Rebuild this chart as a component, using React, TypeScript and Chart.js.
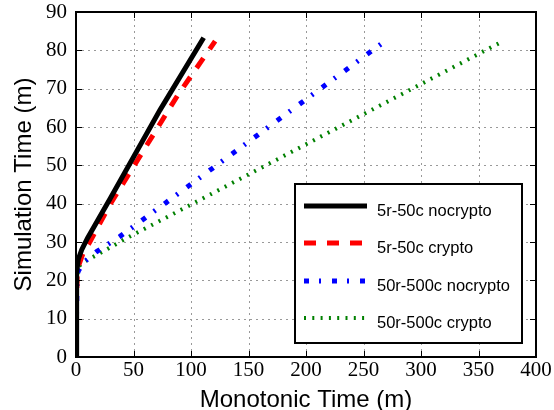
import React, { useEffect, useRef } from "react";
import { Chart, registerables } from "chart.js";

Chart.register(...registerables);

const seriesLabels = ["5r-50c nocrypto", "5r-50c crypto", "50r-500c nocrypto", "50r-500c crypto"];

const blackX = [0, 0.3, 0.8, 2, 5, 10, 30, 73, 111];
const blackY = [0, 15, 22, 25.5, 28, 31, 41.5, 64.4, 83.3];

const redX = [0, 0.4, 1, 2.5, 6, 12, 30, 88.7, 121];
const redY = [0, 14, 21, 24, 27, 30, 40, 68.4, 82.4];

const blueX = [0, 0.5, 1, 1.8, 6, 18, 38, 57, 77, 270];
const blueY = [0, 12, 19, 22.3, 24.5, 27.5, 31.4, 35.6, 40, 82.7];

const greenX = [0, 0.5, 1, 1.8, 5, 18, 44, 87.5, 370];
const greenY = [0, 12, 19, 23.3, 24.5, 26.6, 31, 37.8, 82.2];

const xTicks = [0, 50, 100, 150, 200, 250, 300, 350, 400];
const yTicks = [0, 10, 20, 30, 40, 50, 60, 70, 80, 90];

const toPts = (xs: number[], ys: number[]) => xs.map((x, i) => ({ x, y: ys[i] }));

const gridPlugin = {
  id: "dotgrid",
  beforeDatasetsDraw(chart: any) {
    const { ctx, chartArea: a, scales } = chart;
    ctx.save();
    ctx.strokeStyle = "#999";
    ctx.lineWidth = 1;
    ctx.setLineDash([2, 4]);
    ctx.beginPath();
    scales.x.ticks.forEach((t: any) => {
      const px = Math.round(scales.x.getPixelForValue(t.value)) + 0.5;
      ctx.moveTo(px, a.bottom);
      ctx.lineTo(px, a.top);
    });
    scales.y.ticks.forEach((t: any) => {
      const py = Math.round(scales.y.getPixelForValue(t.value)) + 0.5;
      ctx.moveTo(a.left, py);
      ctx.lineTo(a.right, py);
    });
    ctx.stroke();
    ctx.restore();
  },
};

const framePlugin = {
  id: "frame",
  afterDatasetsDraw(chart: any) {
    const { ctx, chartArea: a, scales } = chart;
    ctx.save();
    ctx.strokeStyle = "#000";
    ctx.lineWidth = 1;
    const tl = 6;
    ctx.beginPath();
    scales.x.ticks.forEach((t: any) => {
      const px = Math.round(scales.x.getPixelForValue(t.value)) + 0.5;
      ctx.moveTo(px, a.bottom);
      ctx.lineTo(px, a.bottom - tl);
      ctx.moveTo(px, a.top);
      ctx.lineTo(px, a.top + tl);
    });
    scales.y.ticks.forEach((t: any) => {
      const py = Math.round(scales.y.getPixelForValue(t.value)) + 0.5;
      ctx.moveTo(a.left, py);
      ctx.lineTo(a.left + tl, py);
      ctx.moveTo(a.right, py);
      ctx.lineTo(a.right - tl, py);
    });
    ctx.stroke();
    ctx.lineWidth = 2;
    ctx.strokeRect(a.left, a.top, a.right - a.left, a.bottom - a.top);

    // legend
    const lx = 295, ly = 184, lw = 227, lh = 159;
    ctx.fillStyle = "#fff";
    ctx.fillRect(lx, ly, lw, lh);
    ctx.lineWidth = 2;
    ctx.strokeStyle = "#000";
    ctx.strokeRect(lx, ly, lw, lh);
    const rows = [206, 243, 281, 318];
    chart.data.datasets.forEach((ds: any, i: number) => {
      ctx.save();
      ctx.strokeStyle = ds.borderColor;
      ctx.lineWidth = ds.borderWidth;
      ctx.lineCap = "butt";
      ctx.setLineDash(ds.borderDash || []);
      ctx.beginPath();
      ctx.moveTo(304, rows[i]);
      ctx.lineTo(367, rows[i]);
      ctx.stroke();
      ctx.restore();
      ctx.fillStyle = "#000";
      ctx.font = "16.5px 'Liberation Sans', Arial, sans-serif";
      ctx.textBaseline = "middle";
      ctx.textAlign = "left";
      ctx.fillText(ds.label, 377, rows[i] + 5);
    });
    ctx.restore();
  },
};

export default function App() {
  const ref = useRef<HTMLCanvasElement>(null);
  useEffect(() => {
    document.body.style.margin = "0";
    const tickFont = { family: "'Liberation Serif', 'Times New Roman', serif", size: 21 };
    const titleFont = { family: "'Liberation Sans', Arial, sans-serif", size: 24, lineHeight: 1 };
    const chart = new Chart(ref.current!, {
      type: "line",
      data: {
        datasets: [
          { label: seriesLabels[0], data: toPts(blackX, blackY), borderColor: "#000", borderWidth: 5, pointRadius: 0, borderCapStyle: "butt" },
          { label: seriesLabels[1], data: toPts(redX, redY), borderColor: "#ff0000", borderWidth: 5, borderDash: [12, 11], pointRadius: 0, borderCapStyle: "butt" },
          { label: seriesLabels[2], data: toPts(blueX, blueY), borderColor: "#0000ff", borderWidth: 5, borderDash: [5, 10, 2, 11], pointRadius: 0, borderCapStyle: "butt" },
          { label: seriesLabels[3], data: toPts(greenX, greenY), borderColor: "#008000", borderWidth: 4, borderDash: [2, 6.3], pointRadius: 0, borderCapStyle: "butt" },
        ] as any,
      },
      options: {
        animation: false,
        responsive: false,
        layout: { padding: { top: 12, right: 18, left: 0, bottom: 0 } },
        plugins: { legend: { display: false }, tooltip: { enabled: false } },
        scales: {
          x: {
            type: "linear",
            min: 0,
            max: 400,
            afterBuildTicks: (s: any) => { s.ticks = xTicks.map((v) => ({ value: v })); },
            afterFit: (s: any) => { s.height = 53; s.paddingLeft = 0; s.paddingRight = 0; },
            ticks: { font: tickFont, color: "#000", padding: 1, maxRotation: 0 },
            grid: { display: false, drawTicks: false },
            border: { display: false },
            title: { display: true, text: "Monotonic Time (m)", font: titleFont, color: "#000", padding: { top: -2, bottom: -2 } },
          },
          y: {
            type: "linear",
            min: 0,
            max: 90,
            afterBuildTicks: (s: any) => { s.ticks = yTicks.map((v) => ({ value: v })); },
            afterFit: (s: any) => { s.width = 76; s.paddingTop = 0; s.paddingBottom = 0; },
            ticks: { font: tickFont, color: "#000", padding: 9 },
            grid: { display: false, drawTicks: false },
            border: { display: false },
            title: { display: true, text: "Simulation Time (m)", font: titleFont, color: "#000", padding: { top: 12, bottom: 12 } },
          },
        },
      } as any,
      plugins: [gridPlugin, framePlugin],
    });
    return () => chart.destroy();
  }, []);
  return <canvas ref={ref} width={554} height={410} style={{ display: "block", width: 554, height: 410 }} />;
}
